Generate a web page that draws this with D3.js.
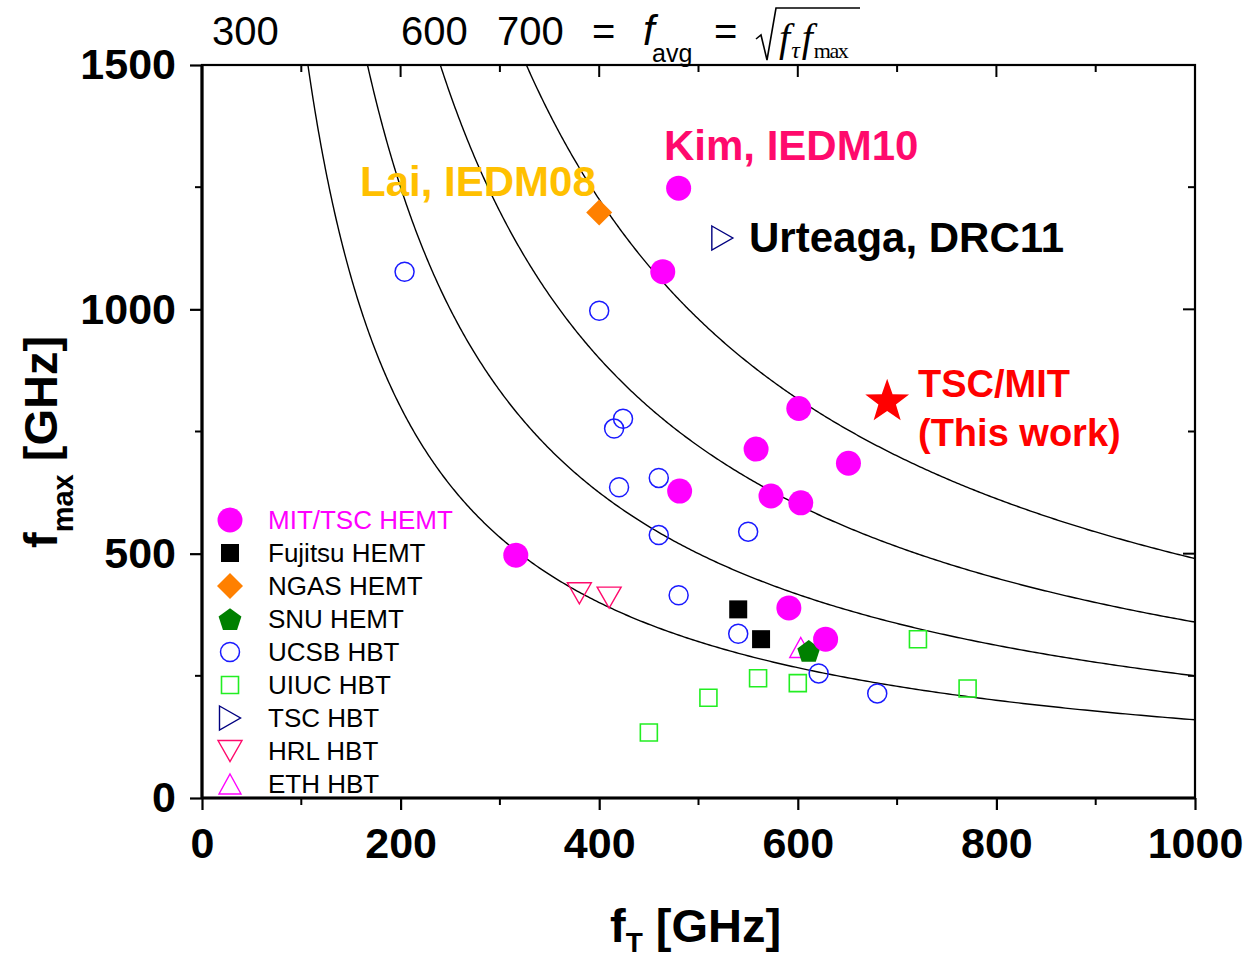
<!DOCTYPE html>
<html>
<head>
<meta charset="utf-8">
<script src="https://cdn.jsdelivr.net/npm/d3@7"></script>
<style>
  html, body { margin: 0; padding: 0; background: #fff; }
  svg { display: block; }
  text { font-family: "Liberation Sans", Arial, sans-serif; }
</style>
</head>
<body>
<script>
// f_T vs f_max of published HEMTs and HBTs, with constant f_avg = sqrt(fT*fmax) contours

const avgContours = [400, 500, 600, 700];

const mitFt    = [480, 464, 601, 558, 651, 481, 573, 603, 316, 591, 628];
const mitFmax  = [1248, 1077, 797, 714, 685, 628, 618, 604, 497, 389, 325];

const fujitsuFt   = [540, 563];
const fujitsuFmax = [386, 325];

const ngasFt   = [400];
const ngasFmax = [1198];

const snuFt   = [611];
const snuFmax = [301];

const ucsbFt   = [204, 400, 424, 415, 460, 420, 460, 550, 480, 540, 621, 680];
const ucsbFmax = [1077, 997, 776, 756, 655, 636, 538, 545, 415, 336, 255, 214];

const uiucFt   = [450, 510, 560, 600, 721, 771];
const uiucFmax = [134, 205, 245, 235, 325, 224];

const tscHbtFt   = [524];
const tscHbtFmax = [1146];

const hrlFt   = [380, 410];
const hrlFmax = [419, 410];

const ethFt   = [603];
const ethFmax = [308];

const thisWorkFt   = [690];
const thisWorkFmax = [811];

const xTicks = [0, 200, 400, 600, 800, 1000];
const yTicks = [0, 500, 1000, 1500];

const legendLabels = ["MIT/TSC HEMT", "Fujitsu HEMT", "NGAS HEMT", "SNU HEMT",
                      "UCSB HBT", "UIUC HBT", "TSC HBT", "HRL HBT", "ETH HBT"];

const W = 1249, H = 960;
const plotL = 202, plotR = 1195, plotT = 65, plotB = 798;

const svg = d3.select("body").append("svg").attr("width", W).attr("height", H);

const x = d3.scaleLinear().domain([0, 1000]).range([plotL, plotR]);
const y = d3.scaleLinear().domain([0, 1500]).range([plotB, plotT]);

// ---- marker shapes (centered at origin) ----
const shapes = {
  circle: r => { const p = d3.path(); p.moveTo(r, 0); p.arc(0, 0, r, 0, 2 * Math.PI); p.closePath(); return p.toString(); },
  square: s => `M${-s/2},${-s/2}H${s/2}V${s/2}H${-s/2}Z`,
  diamond: r => `M0,${-r}L${r},0L0,${r}L${-r},0Z`,
  pentagon: r => d3.range(5).map(k => {
      const a = -Math.PI / 2 + k * 2 * Math.PI / 5;
      return (k ? "L" : "M") + (r * Math.cos(a)).toFixed(2) + "," + (r * Math.sin(a) + r * 0.1).toFixed(2);
    }).join("") + "Z",
  triRight: (w, h) => `M${-w/2},${-h/2}L${w/2},0L${-w/2},${h/2}Z`,
  triDown: (w, h) => `M${-w/2},${-h/2}L${w/2},${-h/2}L0,${h/2}Z`,
  triUp: (w, h) => `M0,${-h/2}L${w/2},${h/2}L${-w/2},${h/2}Z`,
  star: (R) => {
    const r = R * 0.40;
    return d3.range(10).map(k => {
      const a = -Math.PI / 2 + k * Math.PI / 5;
      const rr = k % 2 ? r : R;
      return (k ? "L" : "M") + (rr * Math.cos(a)).toFixed(2) + "," + (rr * Math.sin(a)).toFixed(2);
    }).join("") + "Z";
  }
};

const series = [
  { name: "UIUC HBT",  ft: uiucFt,   fm: uiucFmax,   d: shapes.square(17),     fill: "none", stroke: "#22ee22", sw: 1.6 },
  { name: "UCSB HBT",  ft: ucsbFt,   fm: ucsbFmax,   d: shapes.circle(9.5),    fill: "none", stroke: "#1a1aff", sw: 1.5 },
  { name: "HRL HBT",   ft: hrlFt,    fm: hrlFmax,    d: shapes.triDown(24, 21),fill: "none", stroke: "#ff0a6c", sw: 1.4 },
  { name: "ETH HBT",   ft: ethFt,    fm: ethFmax,    d: shapes.triUp(22, 20),  fill: "none", stroke: "#ff00ff", sw: 1.4 },
  { name: "TSC HBT",   ft: tscHbtFt, fm: tscHbtFmax, d: shapes.triRight(21, 24),fill: "none", stroke: "#000080", sw: 1.4 },
  { name: "Fujitsu HEMT", ft: fujitsuFt, fm: fujitsuFmax, d: shapes.square(18), fill: "#000", stroke: "none", sw: 0 },
  { name: "NGAS HEMT", ft: ngasFt,   fm: ngasFmax,   d: shapes.diamond(13),    fill: "#ff8000", stroke: "none", sw: 0 },
  { name: "SNU HEMT",  ft: snuFt,    fm: snuFmax,    d: shapes.pentagon(12),   fill: "#008000", stroke: "none", sw: 0 },
  { name: "MIT/TSC HEMT", ft: mitFt, fm: mitFmax,    d: shapes.circle(12.5),   fill: "#ff00ff", stroke: "none", sw: 0 },
  { name: "This work", ft: thisWorkFt, fm: thisWorkFmax, d: shapes.star(23),   fill: "#ff0000", stroke: "none", sw: 0 }
];

// ---- contour curves ----
svg.append("clipPath").attr("id", "plotClip")
  .append("rect").attr("x", plotL).attr("y", plotT).attr("width", plotR - plotL).attr("height", plotB - plotT);

const line = d3.line().x(d => x(d[0])).y(d => y(d[1]));
const gCurves = svg.append("g").attr("clip-path", "url(#plotClip)");
avgContours.forEach(f => {
  const start = f * f / 1500;
  const pts = d3.range(0, 401).map(i => {
    const ft = start * Math.pow(1000 / start, i / 400);
    return [ft, f * f / ft];
  });
  gCurves.append("path").attr("d", line(pts))
    .attr("fill", "none").attr("stroke", "#000").attr("stroke-width", 1.4);
});

// ---- markers ----
series.forEach(s => {
  svg.append("g").selectAll("path")
    .data(d3.zip(s.ft, s.fm)).join("path")
    .attr("transform", d => `translate(${x(d[0])},${y(d[1])})`)
    .attr("d", s.d)
    .attr("fill", s.fill)
    .attr("stroke", s.stroke)
    .attr("stroke-width", s.sw);
});

// ---- axes ----
const tickFont = g => g.selectAll("text")
  .style("font-family", "'Liberation Sans', Arial, sans-serif")
  .style("font-weight", "bold").style("font-size", "43px").attr("fill", "#000");

const xMinor = d3.range(100, 1000, 200);
const yMinor = [250, 750, 1250];

// bottom
const gb = svg.append("g").attr("transform", `translate(0,${plotB})`)
  .call(d3.axisBottom(x).tickValues(xTicks).tickFormat(d3.format("d")).tickSize(12).tickPadding(14));
gb.select(".domain").remove();
gb.selectAll("line").attr("stroke-width", 2.2);
tickFont(gb);
gb.selectAll("text").attr("dy", "0.78em");
svg.append("g").selectAll("line").data(xMinor).join("line")
  .attr("x1", d => x(d)).attr("x2", d => x(d)).attr("y1", plotB).attr("y2", plotB + 7)
  .attr("stroke", "#000").attr("stroke-width", 2);

// left
const gl = svg.append("g").attr("transform", `translate(${plotL},0)`)
  .call(d3.axisLeft(y).tickValues(yTicks).tickFormat(d3.format("d")).tickSize(12).tickPadding(14));
gl.select(".domain").remove();
gl.selectAll("line").attr("stroke-width", 2.2);
tickFont(gl);
svg.append("g").selectAll("line").data(yMinor).join("line")
  .attr("x1", plotL - 7).attr("x2", plotL).attr("y1", d => y(d)).attr("y2", d => y(d))
  .attr("stroke", "#000").attr("stroke-width", 2);

// top (inward ticks)
svg.append("g").selectAll("line").data(d3.range(100, 1000, 100)).join("line")
  .attr("x1", d => x(d)).attr("x2", d => x(d)).attr("y1", plotT)
  .attr("y2", d => plotT + (d % 200 === 0 ? 12 : 7))
  .attr("stroke", "#000").attr("stroke-width", 2);
// right (inward ticks)
svg.append("g").selectAll("line").data([250, 500, 750, 1000, 1250]).join("line")
  .attr("x1", plotR).attr("x2", d => plotR - (d % 500 === 0 ? 12 : 7))
  .attr("y1", d => y(d)).attr("y2", d => y(d))
  .attr("stroke", "#000").attr("stroke-width", 2);

// frame
svg.append("rect").attr("x", plotL).attr("y", plotT).attr("width", plotR - plotL).attr("height", plotB - plotT)
  .attr("fill", "none").attr("stroke", "#000").attr("stroke-width", 2.2);
svg.append("line").attr("x1", plotL).attr("x2", plotR).attr("y1", plotB).attr("y2", plotB)
  .attr("stroke", "#000").attr("stroke-width", 3.2);
svg.append("line").attr("x1", plotL).attr("x2", plotL).attr("y1", plotT).attr("y2", plotB)
  .attr("stroke", "#000").attr("stroke-width", 3.2);

// ---- axis titles ----
const xt = svg.append("text").attr("x", 610).attr("y", 942)
  .style("font-weight", "bold").style("font-size", "47px");
xt.append("tspan").text("f");
xt.append("tspan").attr("dy", 10).style("font-size", "28px").text("T");
xt.append("tspan").attr("dy", -10).text(" [GHz]");

const yt = svg.append("text").attr("transform", "translate(57,548) rotate(-90)")
  .style("font-weight", "bold").style("font-size", "47px");
yt.append("tspan").text("f");
yt.append("tspan").attr("dy", 16).style("font-size", "29px").text("max");
yt.append("tspan").attr("dy", -16).text(" [GHz]");

// ---- f_avg header ----
const hdr = svg.append("g").style("font-size", "40px");
[["300", 212], ["600", 401], ["700", 497], ["=", 592], ["=", 714]].forEach(([t, px]) => {
  hdr.append("text").attr("x", px).attr("y", 45).text(t);
});
hdr.append("text").attr("x", 643).attr("y", 45)
  .style("font-style", "italic").style("font-size", "42px").text("f");
hdr.append("text").attr("x", 652).attr("y", 62).style("font-size", "25px").text("avg");
svg.append("path").attr("d", "M756,39L761,35L767,60L776,8L860,8")
  .attr("fill", "none").attr("stroke", "#000").attr("stroke-width", 1.6);
const rad = svg.append("text").attr("x", 779).attr("y", 51)
  .style("font-family", "'Liberation Serif', 'Times New Roman', serif")
  .style("font-style", "italic").style("font-size", "40px");
rad.append("tspan").text("f");
rad.append("tspan").attr("dy", 7).attr("dx", 1).style("font-size", "24px").text("τ");
rad.append("tspan").attr("dy", -7).attr("dx", 2).text("f");
rad.append("tspan").attr("dy", 7).attr("dx", 1).style("font-style", "normal").style("font-size", "22px")
  .style("letter-spacing", "-1.5px").text("max");

// ---- annotations ----
const ann = (t, px, py, color, size) => svg.append("text").attr("x", px).attr("y", py)
  .style("font-weight", "bold").style("font-size", size + "px").attr("fill", color).text(t);
ann("Kim, IEDM10", 664, 160, "#ff0a6c", 42);
ann("Lai, IEDM08", 360, 196, "#ffc000", 42);
ann("Urteaga, DRC11", 749, 252, "#000", 42);
ann("TSC/MIT", 918, 397, "#ff0000", 38);
ann("(This work)", 918, 446, "#ff0000", 38);

// ---- legend ----
const lg = svg.append("g");
legendLabels.forEach((name, i) => {
  const s = series.find(v => v.name === name);
  const cy = 520 + i * 33;
  lg.append("path").attr("transform", `translate(230,${cy})`).attr("d", s.d)
    .attr("fill", s.fill).attr("stroke", s.stroke).attr("stroke-width", s.sw);
  lg.append("text").attr("x", 268).attr("y", cy + 9).style("font-size", "26px")
    .attr("fill", i === 0 ? "#ff00ff" : "#000").text(name);
});
</script>
</body>
</html>
